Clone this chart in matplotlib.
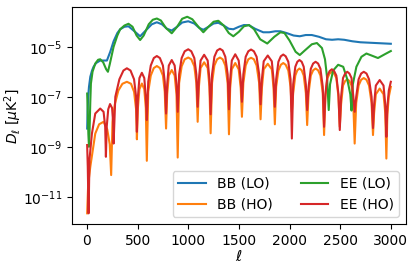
import numpy as np
import matplotlib
matplotlib.use('Agg')
import matplotlib.pyplot as plt

# values: multipole ell and log10(D_ell / uK^2)
bb_lo_ell = [2, 6, 12, 20, 33, 50, 65, 90, 131, 160, 197, 230, 263, 300, 328, 370, 410, 460,
             525, 580, 640, 690, 740, 790, 837, 890, 940, 1000, 1060, 1110, 1149, 1200, 1250,
             1297, 1350, 1400, 1445, 1500, 1550, 1600, 1660, 1740, 1800, 1860, 1910, 1970,
             2040, 2101, 2160, 2220, 2290, 2360, 2420, 2480, 2540, 2620, 2700, 2800, 2900, 3000]
bb_lo_log = [-8.27, -7.6, -7.0, -6.6, -6.2, -5.95, -5.8, -5.65, -5.55, -5.55, -5.55, -5.2, -4.78,
             -4.45, -4.3, -4.2, -4.18, -4.35, -4.58, -4.35, -4.1, -4.02, -4.1, -4.28, -4.35, -4.2,
             -4.03, -3.98, -4.07, -4.25, -4.32, -4.2, -4.07, -4.04, -4.15, -4.28, -4.3, -4.2,
             -4.13, -4.14, -4.28, -4.42, -4.42, -4.38, -4.38, -4.45, -4.55, -4.58, -4.53, -4.53,
             -4.6, -4.7, -4.72, -4.7, -4.72, -4.78, -4.82, -4.84, -4.86, -4.88]

ee_lo_ell = [2, 8, 14, 20, 26, 33, 39, 55, 82, 110, 131, 160, 190, 207, 225, 263, 300, 328, 370,
             410, 450, 490, 525, 560, 610, 650, 690, 730, 780, 837, 890, 940, 990, 1040, 1100,
             1149, 1200, 1250, 1297, 1350, 1400, 1445, 1500, 1550, 1600, 1650, 1710, 1780, 1850,
             1910, 1950, 2000, 2060, 2101, 2150, 2220, 2270, 2320, 2350, 2370, 2387, 2400, 2430,
             2480, 2530, 2570, 2600, 2612, 2625, 2660, 2710, 2759, 2810, 2873, 2940, 3000]
ee_lo_log = [-6.87, -7.6, -8.5, -9.0, -8.3, -7.2, -6.47, -6.0, -5.67, -5.52, -5.5, -5.62, -5.9,
             -6.0, -5.7, -5.0, -4.55, -4.3, -4.15, -4.08, -4.2, -4.55, -4.73, -4.55, -4.1, -3.92,
             -3.87, -3.95, -4.25, -4.46, -4.2, -3.88, -3.8, -3.9, -4.2, -4.42, -4.2, -4.0, -3.96,
             -4.15, -4.45, -4.58, -4.4, -4.18, -4.13, -4.3, -4.7, -4.87, -4.6, -4.42, -4.45,
             -4.75, -5.2, -5.33, -5.15, -4.9, -4.85, -5.05, -5.5, -6.2, -7.53, -6.5, -5.95, -5.72,
             -5.8, -6.3, -6.9, -7.55, -6.5, -5.8, -5.4, -5.27, -5.35, -5.45, -5.3, -5.17]

bb_ho_ell = [2, 12, 33, 82, 120, 164, 200, 225, 239,
             252, 275, 310, 350, 394, 435, 465, 485, 493,
             503, 518, 542, 566, 581, 591,
             605, 630, 660, 690, 720, 750, 768, 781,
             792, 808, 837, 866, 884, 896,
             910, 935, 965, 1000, 1030, 1060, 1080, 1093,
             1105, 1122, 1157, 1192, 1209, 1221,
             1235, 1258, 1285, 1313, 1340, 1366, 1389, 1402,
             1414, 1430, 1464, 1498, 1518, 1530,
             1544, 1567, 1593, 1620, 1648, 1675, 1700, 1714,
             1727, 1745, 1785, 1825, 1842, 1855,
             1868, 1890, 1914, 1938, 1962, 1988, 2010, 2023,
             2036, 2057, 2077, 2098, 2120, 2140, 2161, 2174,
             2188, 2210, 2233, 2257, 2282, 2305, 2328, 2341,
             2354, 2374, 2396, 2418, 2440, 2462, 2483, 2496,
             2509, 2528, 2549, 2570, 2591, 2612, 2630, 2643,
             2658, 2682, 2707, 2733, 2760, 2785, 2810, 2824,
             2835, 2852, 2890, 2928, 2945, 2956,
             2966, 2980, 3000]
bb_ho_log = [-11.66, -10.5, -9.8, -8.47, -8.1, -8.0, -8.3, -8.9, -10.13,
             -8.0, -7.3, -6.75, -6.48, -6.4, -6.48, -6.8, -7.5, -8.7,
             -7.45, -6.7, -6.47, -6.7, -7.45, -9.56,
             -6.8, -6.15, -5.85, -5.77, -5.85, -6.15, -6.8, -8.27,
             -6.9, -6.15, -5.93, -6.15, -6.9, -9.43,
             -6.45, -5.78, -5.5, -5.43, -5.5, -5.78, -6.45, -8.0,
             -6.6, -5.85, -5.62, -5.85, -6.6, -8.46,
             -6.45, -5.75, -5.5, -5.43, -5.5, -5.75, -6.45, -8.5,
             -6.65, -5.9, -5.65, -5.9, -6.65, -7.8,
             -6.45, -5.75, -5.5, -5.44, -5.5, -5.75, -6.45, -7.9,
             -6.65, -5.9, -5.68, -5.9, -6.65, -8.1,
             -6.6, -5.95, -5.72, -5.65, -5.72, -5.95, -6.6, -7.6,
             -6.85, -6.15, -5.94, -5.87, -5.94, -6.15, -6.85, -8.13,
             -6.85, -6.15, -5.94, -5.87, -5.94, -6.15, -6.85, -8.53,
             -7.0, -6.25, -6.07, -6.0, -6.07, -6.25, -7.0, -8.2,
             -7.3, -6.55, -6.37, -6.3, -6.37, -6.55, -7.3, -8.87,
             -7.25, -6.55, -6.32, -6.25, -6.32, -6.55, -7.25, -8.53,
             -7.65, -6.9, -6.67, -6.9, -7.65, -9.47,
             -7.7, -7.0, -6.6]

ee_ho_ell = [2, 8, 16, 25, 49, 82, 131, 164, 180, 187,
             195, 210, 228, 248, 258, 263,
             280, 320, 360, 394, 430, 465, 485, 493,
             503, 518, 542, 566, 581, 591,
             605, 630, 660, 690, 720, 750, 768, 781,
             792, 808, 837, 866, 884, 896,
             910, 935, 965, 1000, 1030, 1060, 1080, 1093,
             1105, 1122, 1157, 1192, 1209, 1221,
             1235, 1258, 1285, 1313, 1340, 1366, 1389, 1402,
             1414, 1430, 1464, 1498, 1518, 1530,
             1544, 1567, 1593, 1620, 1648, 1675, 1700, 1714,
             1727, 1745, 1785, 1825, 1842, 1855,
             1868, 1890, 1914, 1938, 1962, 1988, 2010, 2023,
             2036, 2057, 2077, 2098, 2120, 2140, 2161, 2174,
             2188, 2210, 2233, 2257, 2282, 2305, 2328, 2341,
             2354, 2374, 2396, 2418, 2440, 2462, 2483, 2496,
             2509, 2528, 2549, 2570, 2591, 2612, 2630, 2643,
             2658, 2682, 2707, 2733, 2760, 2785, 2810, 2824,
             2835, 2852, 2890, 2928, 2945, 2956,
             2966, 2980, 3000]
ee_ho_log = [-8.93, -9.8, -11.66, -9.5, -8.47, -7.67, -7.47, -7.6, -8.2, -9.4,
             -8.2, -7.5, -7.29, -7.45, -8.0, -8.87,
             -7.0, -6.3, -5.95, -5.86, -5.95, -6.3, -7.0, -8.4,
             -7.0, -6.25, -6.04, -6.25, -7.0, -7.93,
             -6.4, -5.75, -5.45, -5.37, -5.45, -5.75, -6.4, -7.67,
             -6.5, -5.75, -5.53, -5.75, -6.5, -7.6,
             -6.1, -5.45, -5.18, -5.1, -5.18, -5.45, -6.1, -7.4,
             -6.3, -5.55, -5.32, -5.55, -6.3, -7.7,
             -6.1, -5.4, -5.15, -5.08, -5.15, -5.4, -6.1, -7.5,
             -6.3, -5.55, -5.3, -5.55, -6.3, -7.2,
             -6.1, -5.4, -5.18, -5.11, -5.18, -5.4, -6.1, -7.3,
             -6.3, -5.58, -5.35, -5.58, -6.3, -7.4,
             -6.3, -5.6, -5.38, -5.31, -5.38, -5.6, -6.3, -8.67,
             -6.5, -5.8, -5.6, -5.53, -5.6, -5.8, -6.5, -7.53,
             -6.6, -5.88, -5.67, -5.6, -5.67, -5.88, -6.6, -8.2,
             -6.9, -6.15, -5.97, -5.9, -5.97, -6.15, -6.9, -8.33,
             -7.0, -6.25, -6.07, -6.0, -6.07, -6.25, -7.0, -7.6,
             -7.0, -6.3, -6.07, -6.0, -6.07, -6.3, -7.0, -8.25,
             -7.3, -6.55, -6.33, -6.55, -7.3, -8.6,
             -7.4, -6.75, -6.4]

series = [
    ('BB (LO)', bb_lo_ell, bb_lo_log, 'tab:blue'),
    ('BB (HO)', bb_ho_ell, bb_ho_log, 'tab:orange'),
    ('EE (LO)', ee_lo_ell, ee_lo_log, 'tab:green'),
    ('EE (HO)', ee_ho_ell, ee_ho_log, 'tab:red'),
]

fig = plt.figure(figsize=(4.16, 2.69), dpi=100)
ax = fig.add_axes([0.173, 0.167, 0.803, 0.806])

for label, ell, logd, col in series:
    ax.plot(ell, 10.0 ** np.array(logd), color=col, lw=1.5, label=label)

ax.set_yscale('log')
ax.set_xlim(-148, 3150)
ax.set_ylim(10 ** -12.09, 10 ** -3.42)
ax.set_yticks([1e-11, 1e-9, 1e-7, 1e-5])
ax.minorticks_off()
ax.set_xticks([0, 500, 1000, 1500, 2000, 2500, 3000])
ax.tick_params(labelsize=10)
ax.set_xlabel(r'$\ell$', fontsize=11, labelpad=1)
ax.set_ylabel(r'$D_\ell$ [$\mu$K$^2$]', fontsize=10)
ax.yaxis.set_label_coords(-0.145, 0.5)
ax.legend(loc='lower right', ncol=2, fontsize=10)

fig.savefig('out.png', dpi=100)
